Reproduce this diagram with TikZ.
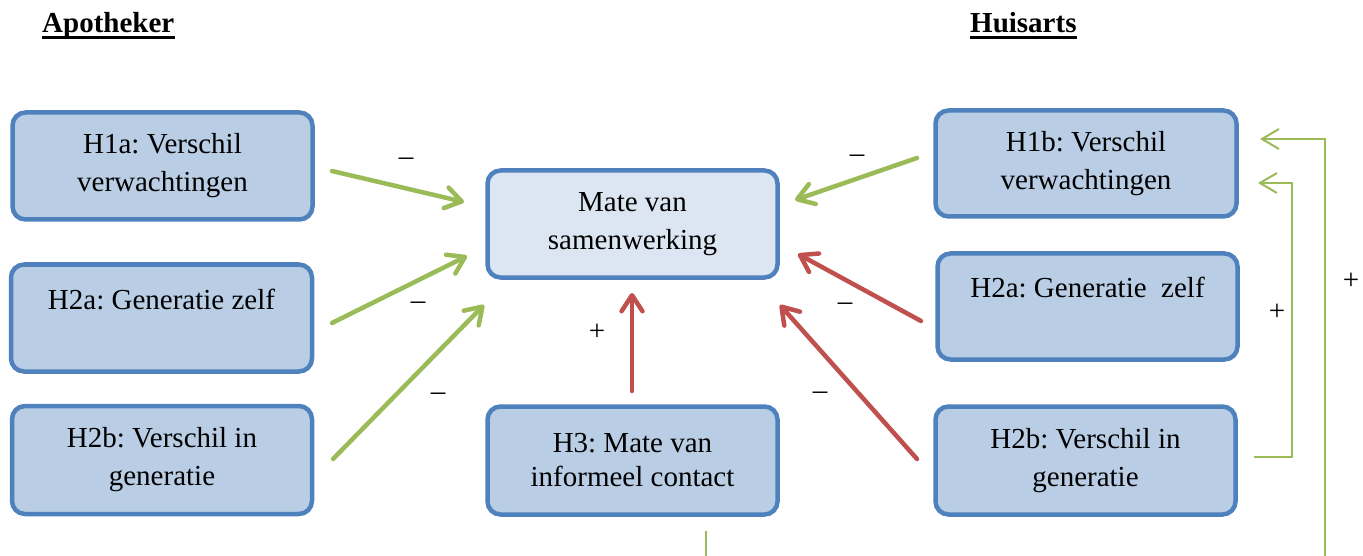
\documentclass[tikz,border=0pt]{standalone}
\usepackage{fontspec}
\setmainfont{Liberation Serif}
\usetikzlibrary{arrows.meta}
\frenchspacing
\definecolor{boxblue}{HTML}{4F81BD}
\definecolor{boxfill}{HTML}{B9CDE5}
\definecolor{boxlight}{HTML}{DCE6F2}
\definecolor{agreen}{HTML}{9BBB59}
\definecolor{ared}{HTML}{C0504D}
\tikzset{
  hbox/.style={draw=boxblue, fill=boxfill, line width=4.5pt, rounded corners=13pt,
    align=center, inner sep=0pt, font=\fontsize{29}{38}\selectfont},
  hlight/.style={hbox, fill=boxlight},
  thickarrow/.style={line width=4.5pt, line cap=round,
    -{Straight Barb[round,length=16pt,width=21pt]}},
  thinarrow/.style={line width=2pt, draw=agreen,
    -{Straight Barb[length=17pt,width=20pt]}},
  sign/.style={anchor=base, inner sep=0pt, font=\fontsize{29}{38}\selectfont},
  header/.style={anchor=base west, inner sep=0pt, font=\fontsize{29}{38}\selectfont\bfseries},
}
\begin{document}
\begin{tikzpicture}[x=1pt,y=-1pt]
\useasboundingbox (0,0) rectangle (1363,556);

% headers
\node[header] (hA) at (42,33) {Apotheker};
\node[header] (hH) at (970,33) {Huisarts};
\draw[line width=3pt] ([yshift=-5pt]hA.base west) -- ([yshift=-5pt]hA.base east);
\draw[line width=3pt] ([yshift=-5pt]hH.base west) -- ([yshift=-5pt]hH.base east);

% boxes
\node[hbox, minimum width=300pt, minimum height=107pt] (h1a) at (162.5,166) {H1a: Verschil\\verwachtingen};
\node[hbox, minimum width=301pt, minimum height=107pt] (h2aL) at (161.5,318) {H2a: Generatie zelf\\\mbox{}};
\node[hbox, minimum width=300pt, minimum height=108pt] (h2bL) at (162,460) {H2b: Verschil in\\generatie};
\node[hlight, minimum width=290pt, minimum height=107pt] (mate) at (632.5,224) {Mate van\\samenwerking};
\node[hbox, minimum width=290pt, minimum height=108pt, font=\fontsize{29}{34}\selectfont] (h3) at (632.5,460.5) {H3: Mate van\\informeel contact};
\node[hbox, minimum width=301pt, minimum height=106pt] (h1b) at (1086,163.5) {H1b: Verschil\\verwachtingen};
\node[hbox, minimum width=300pt, minimum height=106pt] (h2aR) at (1087.5,306.5) {H2a: Generatie\ \ zelf\\\mbox{}};
\node[hbox, minimum width=300pt, minimum height=108pt] (h2bR) at (1085.5,460.5) {H2b: Verschil in\\generatie};

% connector end points
\coordinate (a1s) at (332,171);  \coordinate (a1e) at (464,202);
\coordinate (a2s) at (332,323);  \coordinate (a2e) at (467,256);
\coordinate (a3s) at (333,459);  \coordinate (a3e) at (484,305);
\coordinate (b1s) at (917,158);  \coordinate (b1e) at (795,200);
\coordinate (b2s) at (921,321);  \coordinate (b2e) at (798,254);
\coordinate (b3s) at (917,459);  \coordinate (b3e) at (780,305);
\coordinate (c1s) at (632,391);  \coordinate (c1e) at (632,293);
\coordinate (d1s) at (1254,457); \coordinate (d1a) at (1292,457);
\coordinate (d1b) at (1292,183); \coordinate (d1e) at (1258,183);
\coordinate (d2s) at (1325,556); \coordinate (d2a) at (1325,139);
\coordinate (d2e) at (1260,139);
\coordinate (s1s) at (706,531);  \coordinate (s1e) at (706,556);

% thick arrows
\draw[thickarrow, draw=agreen] (a1s) -- (a1e);
\draw[thickarrow, draw=agreen] (a2s) -- (a2e);
\draw[thickarrow, draw=agreen] (a3s) -- (a3e);
\draw[thickarrow, draw=agreen] (b1s) -- (b1e);
\draw[thickarrow, draw=ared] (b2s) -- (b2e);
\draw[thickarrow, draw=ared] (b3s) -- (b3e);
\draw[thickarrow, draw=ared] (c1s) -- (c1e);

% thin lines
\draw[thinarrow] (d1s) -- (d1a) -- (d1b) -- (d1e);
\draw[thinarrow] (d2s) -- (d2a) -- (d2e);
\draw[line width=2pt, draw=agreen] (s1s) -- (s1e);

% signs
\node[sign] (m1) at (406,166) {–};
\node[sign] (m2) at (418,309) {–};
\node[sign] (m3) at (438,400) {–};
\node[sign] (m4) at (857,163) {–};
\node[sign] (m5) at (845,310) {–};
\node[sign] (m6) at (820,399) {–};
\node[sign] (p1) at (597,340) {+};
\node[sign] (p2) at (1277,320) {+};
\node[sign] (p3) at (1351,290) {+};
\end{tikzpicture}
\end{document}
